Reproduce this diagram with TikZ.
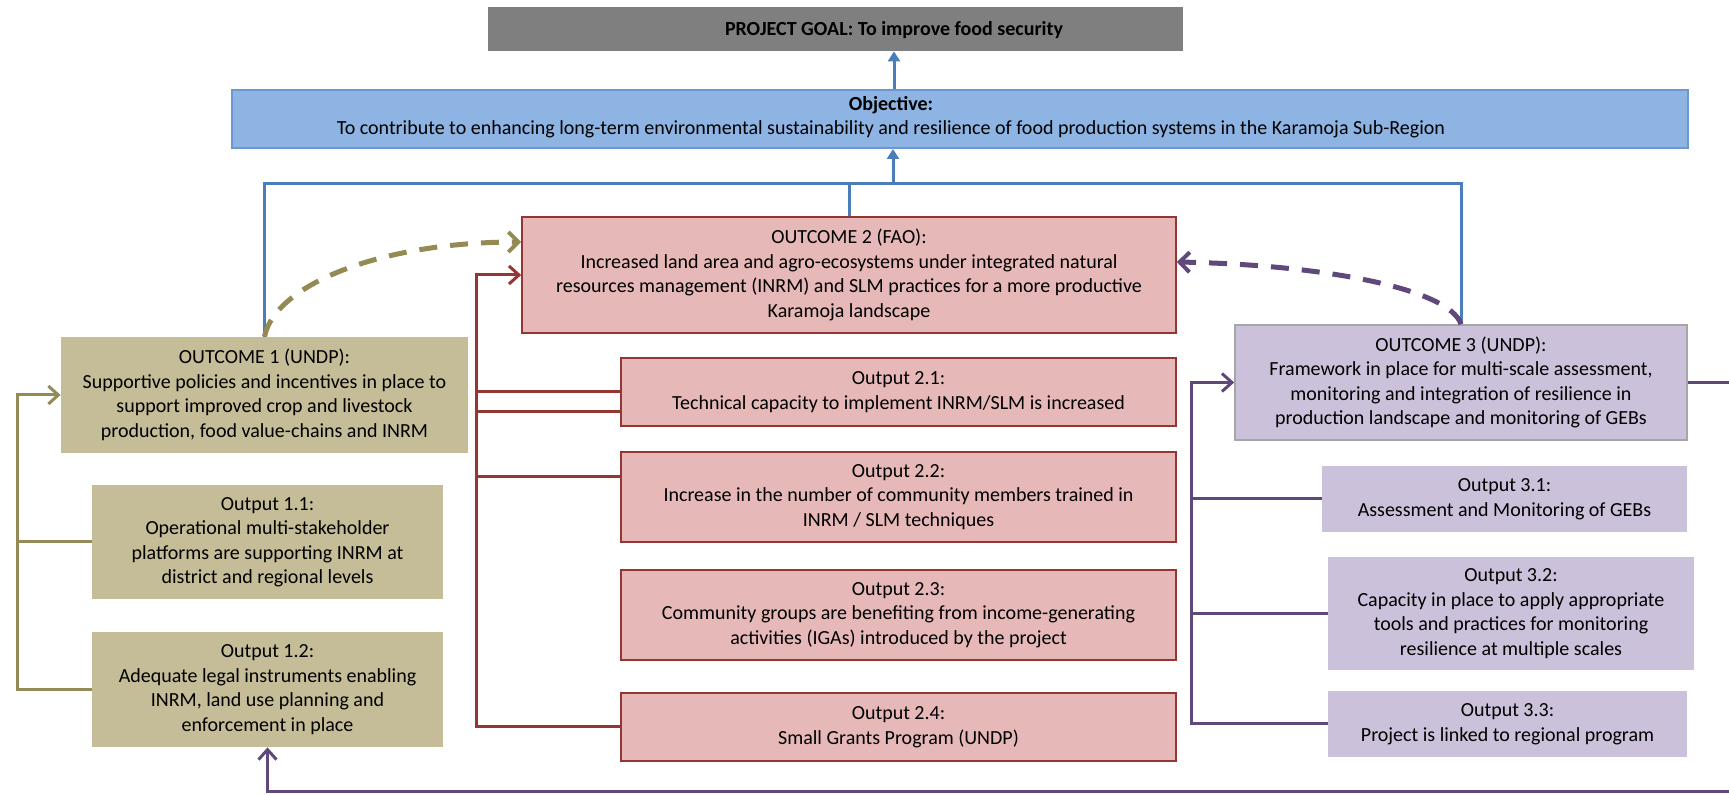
\documentclass[tikz,border=0pt]{standalone}
\usepackage{fontspec}
\setmainfont{Carlito}
\usetikzlibrary{arrows.meta,calc}
\definecolor{goalgray}{HTML}{7F7F7F}
\definecolor{objfill}{HTML}{8DB4E2}
\definecolor{objedge}{HTML}{6A98CF}
\definecolor{blline}{HTML}{4A7EBB}
\definecolor{olfill}{HTML}{C4BD97}
\definecolor{olline}{HTML}{948A54}
\definecolor{rdfill}{HTML}{E6B9B8}
\definecolor{rdline}{HTML}{943634}
\definecolor{ppfill}{HTML}{CCC1DA}
\definecolor{ppline}{HTML}{5F497A}
\begin{document}
\begin{tikzpicture}[x=0.5pt,y=-0.5pt,
    box/.style={inner sep=0pt,align=center,font=\fontsize{10}{12.25}\selectfont},
    goalbox/.style={box,fill=goalgray},
    objbox/.style={box,fill=objfill,draw=objedge,line width=1pt},
    olbox/.style={box,fill=olfill},
    rdbox/.style={box,fill=rdfill,draw=rdline,line width=0.8pt},
    ppbox/.style={box,fill=ppfill},
    bl/.style={draw=blline,line width=1.5pt},
    ol/.style={draw=olline,line width=1.5pt},
    rd/.style={draw=rdline,line width=1.5pt},
    pp/.style={draw=ppline,line width=1.5pt},
    oldash/.style={draw=olline,line width=2.5pt,dash pattern=on 9pt off 6.5pt},
    ppdash/.style={draw=ppline,line width=2.5pt,dash pattern=on 9pt off 6.5pt},
    barb/.style={-{Straight Barb[length=5pt,width=9pt]}},
    bigbarb/.style={-{Straight Barb[length=5pt,width=10pt,line width=2pt]}},
    tri/.style={-{Triangle[length=5pt,width=6pt]}}]
    \useasboundingbox (0,0) rectangle (1729,795);
    \node[goalbox,minimum width=347.5pt,minimum height=22pt] (goal) at (835.5,29) {};
    \node[box,font=\bfseries\fontsize{10}{12.25}\selectfont] (goaltxt) at (894,30) {PROJECT GOAL: To improve food security};
    \node[objbox,minimum width=728pt,minimum height=29pt] (obj) at (960,119) {};
    \node[box] (objtxt) at (891,117) {\textbf{Objective:}\\To contribute to enhancing long-term environmental sustainability and resilience of food production systems in the Karamoja Sub-Region};
    \node[olbox,minimum width=203.5pt,minimum height=58pt] (o1) at (264.5,395) {OUTCOME 1 (UNDP):\\Supportive policies and incentives in place to\\support improved crop and livestock\\production, food value-chains and INRM};
    \node[olbox,minimum width=175.5pt,minimum height=57pt] (o11) at (267.5,542) {Output 1.1:\\Operational multi-stakeholder\\platforms are supporting INRM at\\district and regional levels};
    \node[olbox,minimum width=175.5pt,minimum height=57.5pt] (o12) at (267.5,689.5) {Output 1.2:\\Adequate legal instruments enabling\\INRM, land use planning and\\enforcement in place};
    \node[rdbox,minimum width=327pt,minimum height=58pt] (o2) at (849,275) {OUTCOME 2 (FAO):\\Increased land area and agro-ecosystems under integrated natural\\resources management (INRM) and SLM practices for a more productive\\Karamoja landscape};
    \node[rdbox,minimum width=277.5pt,minimum height=34pt] (o21) at (898.5,392) {Output 2.1:\\Technical capacity to implement INRM/SLM is increased};
    \node[rdbox,minimum width=277.5pt,minimum height=45pt] (o22) at (898.5,497) {Output 2.2:\\Increase in the number of community members trained in\\INRM / SLM techniques};
    \node[rdbox,minimum width=277.5pt,minimum height=45pt] (o23) at (898.5,615) {Output 2.3:\\Community groups are benefiting from income-generating\\activities (IGAs) introduced by the project};
    \node[rdbox,minimum width=277.5pt,minimum height=34pt] (o24) at (898.5,727) {Output 2.4:\\Small Grants Program (UNDP)};
    \node[ppbox,draw=gray!70,line width=0.8pt,minimum width=226pt,minimum height=57.5pt] (o3) at (1461,382.5) {OUTCOME 3 (UNDP):\\Framework in place for multi-scale assessment,\\monitoring and integration of resilience in\\production landscape and monitoring of GEBs};
    \node[ppbox,minimum width=182.5pt,minimum height=33pt] (o31) at (1504.5,499) {Output 3.1:\\Assessment and Monitoring of GEBs};
    \node[ppbox,minimum width=183pt,minimum height=56.5pt] (o32) at (1511,613.5) {Output 3.2:\\Capacity in place to apply appropriate\\tools and practices for monitoring\\resilience at multiple scales};
    \node[ppbox,minimum width=179.5pt,minimum height=33pt] (o33) at (1507.5,724) {Output 3.3:\\Project is linked to regional program};
    \coordinate (busl) at (264.5,184);
    \coordinate (busr) at (1461,184);
    \coordinate (busm) at (893,184);
    \draw[bl] (o1.north) -- (busl) -- (busr) -- (o3.north);
    \draw[bl] (o2.north) -- (o2.north |- busl);
    \draw[bl,tri] (busm) -- (busm |- obj.south);
    \draw[bl,tri] (goaltxt |- obj.north) -- (goaltxt |- goal.south);
    \coordinate (oltop) at (17,395);
    \coordinate (olbot) at (17,689.5);
    \draw[ol,barb] (o12.west) -- (olbot) -- (oltop) -- (o1.west);
    \draw[ol] (o11.west -| oltop) -- (o11.west);
    \coordinate (rdtop) at (476,275);
    \coordinate (rdbot) at (476,727);
    \draw[rd,barb] (o24.west) -- (rdbot) -- (rdtop) -- (o2.west);
    \draw[rd] (o21.west -| rdtop) -- (o21.west);
    \draw[rd] ($(o21.west -| rdtop)+(0,20)$) -- ($(o21.west)+(0,20)$);
    \draw[rd] ($(o22.west -| rdtop)+(0,-20)$) -- ($(o22.west)+(0,-20)$);
    \coordinate (pptop) at (1191,382.5);
    \coordinate (ppbot) at (1191,724);
    \draw[pp,barb] (o33.west) -- (ppbot) -- (pptop) -- (o3.west);
    \draw[pp] (o31.west -| pptop) -- (o31.west);
    \draw[pp] (o32.west -| pptop) -- (o32.west);
    \coordinate (ppr) at (1745,382.5);
    \coordinate (ppb) at (1745,791);
    \draw[pp,barb] (o3.east) -- (ppr) -- (ppb) -- (ppb -| o12.south) -- (o12.south);
    \draw[oldash,bigbarb] (o1.north) .. controls (275,285) and (380,242) .. ($(o2.west)+(0,-33)$);
    \draw[ppdash,bigbarb] (o3.north) .. controls (1450,290) and (1330,265) .. ($(o2.east)+(0,-13)$);
\end{tikzpicture}
\end{document}
